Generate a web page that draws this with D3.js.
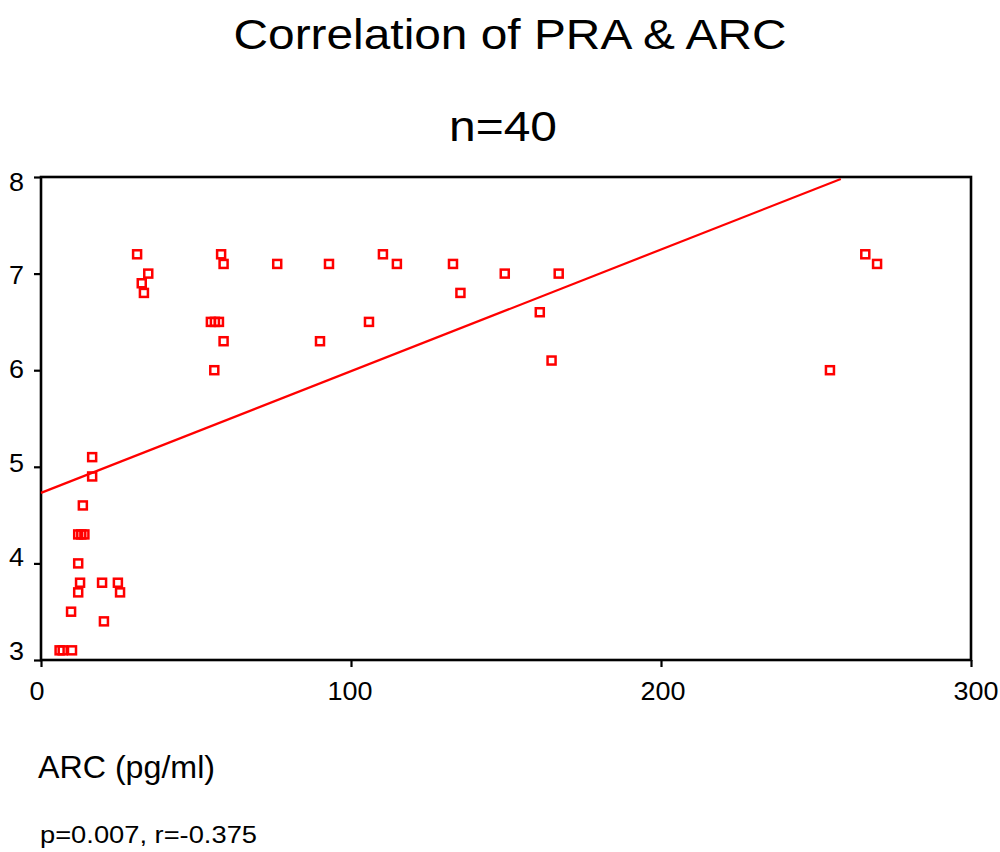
<!DOCTYPE html>
<html>
<head>
<meta charset="utf-8">
<script src="https://cdn.jsdelivr.net/npm/d3@7/dist/d3.min.js"></script>
<style>
    body { margin: 0; background: #fff; }
    text { font-family: "Liberation Sans", Arial, sans-serif; fill: #000; }
</style>
</head>
<body>
<script>
// ARC (pg/ml) on x, PRA on y
var arc = [6, 7, 10, 9.7, 12, 12.6, 12, 12, 13, 14, 13.5, 16.5, 16.5, 19.7, 20.3, 24.8, 25.5,
    31, 34.6, 32.5, 33.2, 58.1, 58.9, 76.2, 54.8, 56.1, 57.4, 58.9, 55.9,
    92.9, 110.3, 114.8, 132.9, 149.6, 167, 135.3, 105.8, 90, 160.9, 164.7,
    265.9, 269.7, 254.5];
var pra = [3.1, 3.1, 3.1, 3.5, 3.7, 3.8, 4.0, 4.3, 4.3, 4.3, 4.6, 4.9, 5.1, 3.8, 3.4, 3.8, 3.7,
    7.2, 7.0, 6.9, 6.8, 7.2, 7.1, 7.1, 6.5, 6.5, 6.5, 6.3, 6.0,
    7.1, 7.2, 7.1, 7.1, 7.0, 7.0, 6.8, 6.5, 6.3, 6.6, 6.1,
    7.2, 7.1, 6.0];

// fitted line end points
var fitX = [0, 258];
var fitY = [4.73, 7.98];

var xTicks = [0, 100, 200, 300];
var yTicks = [3, 4, 5, 6, 7, 8];

var W = 1000, H = 852;
var margin = {left: 41, top: 177, right: 29, bottom: 192};
var w = W - margin.left - margin.right;
var h = H - margin.top - margin.bottom;

var svg = d3.select("body").append("svg")
    .attr("width", W)
    .attr("height", H);

var scaleX = d3.scaleLinear().domain([0, 300]).range([0, w]);
var scaleY = d3.scaleLinear().domain([3, 8]).range([h, 0]);
// tick labels sit a little off the ticks in the original
var labX = d3.scaleLinear().domain([0, 300]).range([-4, 935]);
var labY = d3.scaleLinear().domain([3, 8]).range([h - 9, 4.5]);

svg.append("text")
    .attr("x", 510).attr("y", 49)
    .attr("text-anchor", "middle")
    .attr("textLength", 553).attr("lengthAdjust", "spacingAndGlyphs")
    .style("font-size", "43px")
    .text("Correlation of PRA & ARC");

svg.append("text")
    .attr("x", 503).attr("y", 141)
    .attr("text-anchor", "middle")
    .attr("textLength", 108).attr("lengthAdjust", "spacingAndGlyphs")
    .style("font-size", "43px")
    .text("n=40");

var g = svg.append("g")
    .attr("transform", "translate(" + margin.left + " " + margin.top + ")");

// ticks
var xAxis = d3.axisBottom(scaleX).tickValues(xTicks).tickSize(7).tickFormat("");
var yAxis = d3.axisLeft(scaleY).tickValues(yTicks).tickSize(7).tickFormat("");
var xg = g.append("g").attr("transform", "translate(0 " + h + ")").call(xAxis);
var yg = g.append("g").call(yAxis);
xg.select(".domain").remove();
yg.select(".domain").remove();
svg.selectAll(".tick line").attr("stroke", "#000").attr("stroke-width", 2.2);

g.selectAll("text.xl")
    .data(xTicks).enter()
    .append("text")
    .attr("class", "xl")
    .attr("x", (d) => labX(d))
    .attr("y", h + 40)
    .attr("text-anchor", "middle")
    .attr("textLength", (d) => String(d).length * 15)
    .attr("lengthAdjust", "spacingAndGlyphs")
    .style("font-size", "26px")
    .text((d) => d);

g.selectAll("text.yl")
    .data(yTicks).enter()
    .append("text")
    .attr("class", "yl")
    .attr("x", -17)
    .attr("y", (d) => labY(d) + 9)
    .attr("text-anchor", "end")
    .attr("textLength", 15)
    .attr("lengthAdjust", "spacingAndGlyphs")
    .style("font-size", "26px")
    .text((d) => d);

// frame
g.append("rect")
    .attr("width", w)
    .attr("height", h)
    .attr("fill", "none")
    .attr("stroke", "#000")
    .attr("stroke-width", 2.6);

g.append("line")
    .attr("x1", scaleX(fitX[0])).attr("y1", scaleY(fitY[0]))
    .attr("x2", scaleX(fitX[1])).attr("y2", scaleY(fitY[1]))
    .attr("stroke", "#ff0000")
    .attr("stroke-width", 2.2);

g.selectAll("rect.pt")
    .data(arc).enter()
    .append("rect")
    .attr("class", "pt")
    .attr("x", (d) => scaleX(d) - 4)
    .attr("y", (d, i) => scaleY(pra[i]) - 4)
    .attr("width", 8)
    .attr("height", 8)
    .attr("fill", "none")
    .attr("stroke", "#ff0000")
    .attr("stroke-width", 2.5);

svg.append("text")
    .attr("x", 38).attr("y", 778)
    .attr("textLength", 177).attr("lengthAdjust", "spacingAndGlyphs")
    .style("font-size", "31px")
    .text("ARC (pg/ml)");

svg.append("text")
    .attr("x", 40).attr("y", 843)
    .attr("textLength", 217).attr("lengthAdjust", "spacingAndGlyphs")
    .style("font-size", "23px")
    .text("p=0.007, r=-0.375");
</script>
</body>
</html>
